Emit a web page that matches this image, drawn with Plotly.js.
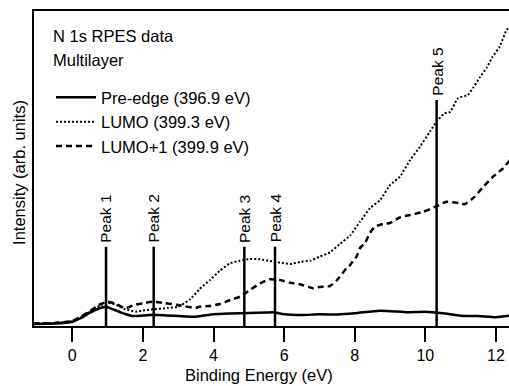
<!DOCTYPE html>
<html>
<head>
<meta charset="utf-8">
<script src="https://cdn.plot.ly/plotly-3.0.1.min.js"></script>
<style>html,body{margin:0;padding:0;background:#fff;}#chart{width:509px;height:386px;}</style>
</head>
<body>
<div id="chart"></div>
<script>
// Pre-edge (396.9 eV)
const preX = [-1.1, -0.5, 0, 0.25, 0.5, 0.75, 0.95, 1.2, 1.5, 1.7, 2.0, 2.3, 2.7, 3.0, 3.5, 4.0, 4.5, 5.0, 5.5, 5.7, 6.0, 6.5, 7.0, 7.5, 8.0, 8.7, 9.2, 9.5, 10.0, 10.5, 11.0, 11.5, 12.0, 12.4];
const preY = [2, 2.5, 4.3, 8, 13.3, 17.5, 19.3, 16, 12, 10, 10.5, 11.3, 10.5, 10, 9.3, 11.7, 12.5, 13, 13.5, 13.7, 11.7, 11, 11.7, 11.5, 12.7, 15.3, 14.5, 13.7, 14.3, 12.7, 10.3, 10, 8.7, 10.3];
// LUMO (399.3 eV)
const lumoX = [-1.1, -0.5, 0, 0.25, 0.5, 0.75, 1.0, 1.25, 1.5, 1.8, 2.0, 2.3, 2.7, 3.0, 3.34, 3.6, 3.9, 4.18, 4.47, 4.75, 5.03, 5.32, 5.6, 5.88, 6.17, 6.45, 6.74, 7.0, 7.3, 7.58, 7.87, 8.15, 8.43, 8.72, 9.0, 9.28, 9.57, 9.85, 10.13, 10.33, 10.55, 10.7, 10.93, 11.2, 11.35, 11.55, 11.75, 11.9, 12.1, 12.3, 12.4];
const lumoY = [2.5, 3, 5, 9, 14.3, 20, 23.3, 21, 16.7, 14.3, 15.5, 16.7, 18, 19.3, 26.7, 36.7, 46, 55.3, 62.7, 65.3, 67, 66.7, 65, 63.3, 62, 64, 65.3, 69.3, 73.7, 82, 90.5, 104.3, 117.7, 126, 141, 149.3, 166, 179.3, 194.3, 205, 212.7, 214, 228, 231, 238, 249, 259, 269, 279, 296, 300];
// LUMO+1 (399.9 eV)
const lumo1X = [-1.1, -0.5, 0, 0.25, 0.5, 0.75, 1.0, 1.25, 1.5, 1.75, 2.0, 2.3, 2.6, 3.0, 3.5, 3.6, 3.9, 4.18, 4.47, 4.75, 5.03, 5.32, 5.6, 5.88, 6.17, 6.45, 6.82, 7.0, 7.3, 7.5, 7.77, 7.87, 8.06, 8.15, 8.29, 8.43, 8.57, 8.8, 9.0, 9.28, 9.57, 9.93, 10.33, 10.6, 11.0, 11.12, 11.4, 11.63, 11.92, 12.2, 12.4];
const lumo1Y = [2.5, 3, 5, 9.5, 15, 21, 24.3, 22, 17.7, 21, 22.7, 24.3, 23, 21, 18, 19.3, 20, 22, 26, 29.3, 36, 42.7, 46.7, 46, 43.3, 41.7, 37.7, 39, 40, 46, 58, 61, 70, 78, 83, 93, 99.3, 102, 103, 108.7, 111, 114, 120, 124.3, 122.7, 121.7, 129.3, 138.7, 149.3, 157.7, 166];
// Peak markers
const peakNames = ["Peak 1", "Peak 2", "Peak 3", "Peak 4", "Peak 5"];
const peakPos = [0.955, 2.305, 4.873, 5.742, 10.32];
const peakTop = [79.3, 79.3, 79.3, 79.3, 226];

const FONT = "Liberation Sans, Arial, sans-serif";
const traces = [
  {x: preX, y: preY, type: 'scatter', mode: 'lines', name: 'Pre-edge (396.9 eV)',
   line: {color: '#000', width: 2.5, shape: 'spline', smoothing: 0.6}},
  {x: lumoX, y: lumoY, type: 'scatter', mode: 'lines', name: 'LUMO (399.3 eV)',
   line: {color: '#000', width: 2, dash: '2px,2px', shape: 'spline', smoothing: 0.4}},
  {x: lumo1X, y: lumo1Y, type: 'scatter', mode: 'lines', name: 'LUMO+1 (399.9 eV)',
   line: {color: '#000', width: 2.5, dash: '6px,4px', shape: 'spline', smoothing: 0.4}}
];
peakPos.forEach((p, i) => {
  traces.push({x: [p, p], y: [0, peakTop[i]], type: 'scatter', mode: 'lines',
    showlegend: false, hoverinfo: 'skip', line: {color: '#000', width: 2.5}});
});

const annotations = peakPos.map((p, i) => ({
  x: p, y: peakTop[i], xref: 'x', yref: 'y', text: peakNames[i], textangle: -90,
  showarrow: false, xanchor: 'center', yanchor: 'bottom', yshift: 2,
  font: {family: FONT, size: 15.5, color: '#000'}
}));
annotations.push(
  {xref: 'paper', yref: 'paper', x: 0.0358, y: 0.9206, text: 'N 1s RPES data', showarrow: false,
   xanchor: 'left', yanchor: 'middle', font: {family: FONT, size: 16.5, color: '#000'}},
  {xref: 'paper', yref: 'paper', x: 0.0358, y: 0.8444, text: 'Multilayer', showarrow: false,
   xanchor: 'left', yanchor: 'middle', font: {family: FONT, size: 16.5, color: '#000'}},
  {xref: 'paper', yref: 'paper', x: 0.4747, y: -0.1556, text: 'Binding Energy (eV)', showarrow: false,
   xanchor: 'center', yanchor: 'middle', font: {family: FONT, size: 16.5, color: '#000'}},
  {xref: 'paper', yref: 'paper', x: -0.0316, y: 0.489, text: 'Intensity (arb. units)', showarrow: false,
   textangle: -90, xanchor: 'center', yanchor: 'middle', font: {family: FONT, size: 16.5, color: '#000'}}
);

const layout = {
  width: 509, height: 386,
  margin: {l: 34, r: 0, t: 11, b: 60},
  paper_bgcolor: '#fff', plot_bgcolor: '#fff',
  font: {family: FONT, color: '#000'},
  showlegend: true,
  legend: {x: 0.0358, y: 0.781, xanchor: 'left', yanchor: 'top', bgcolor: 'rgba(0,0,0,0)',
           font: {family: FONT, size: 16.5, color: '#000'}, itemwidth: 40, tracegroupgap: 0},
  xaxis: {range: [-1.085, 12.37], tickvals: [0, 2, 4, 6, 8, 10, 12], ticks: 'outside', ticklen: 14,
          tickwidth: 2, tickcolor: '#000', showline: true, linewidth: 2, linecolor: '#000', mirror: true,
          showgrid: false, zeroline: false, tickfont: {family: FONT, size: 16, color: '#000'}},
  yaxis: {range: [0, 315], showticklabels: false, ticks: '', showline: true, linewidth: 2,
          linecolor: '#000', showgrid: false, zeroline: false},
  annotations: annotations
};
Plotly.newPlot('chart', traces, layout, {displayModeBar: false, staticPlot: true});
</script>
</body>
</html>
